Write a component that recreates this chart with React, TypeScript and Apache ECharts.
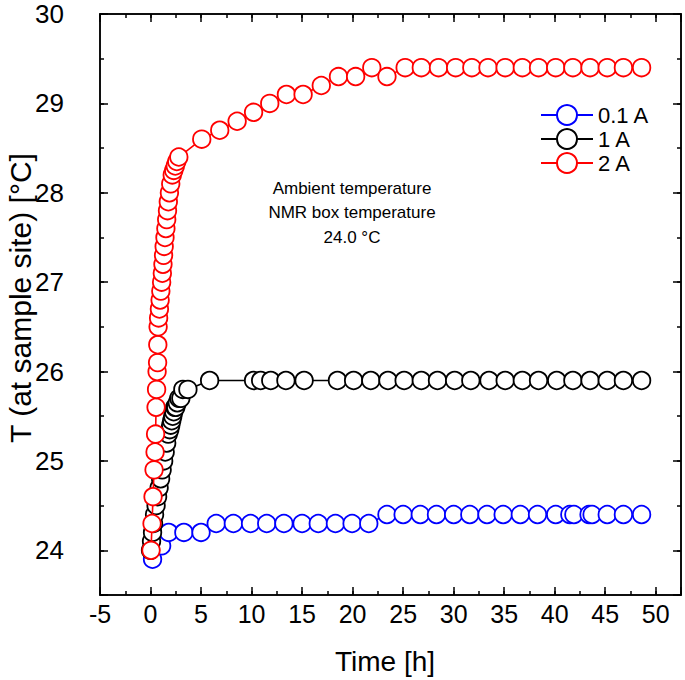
import React, { useEffect, useRef } from "react";
import * as echarts from "echarts";

const FONT = '"Liberation Sans", Arial, Helvetica, sans-serif';

// 0.1 A
const blueTime = [0.2, 1.1, 1.8, 3.3, 5.0, 6.5, 8.2, 9.9, 11.5, 13.2, 15.0, 16.6, 18.3, 19.95, 21.6, 23.4, 25.0, 26.7, 28.3, 30.0, 31.6, 33.3, 34.9, 36.6, 38.3, 40.1, 41.5, 41.9, 43.4, 43.7, 45.2, 46.8, 48.6];
const blueTemp = [23.9, 24.05, 24.2, 24.2, 24.2, 24.3, 24.3, 24.3, 24.3, 24.3, 24.3, 24.3, 24.3, 24.3, 24.3, 24.4, 24.4, 24.4, 24.4, 24.4, 24.4, 24.4, 24.4, 24.4, 24.4, 24.4, 24.4, 24.4, 24.4, 24.4, 24.4, 24.4, 24.4];

// 1 A
const blackTime = [0.0, 0.1, 0.2, 0.3, 0.4, 0.55, 0.7, 0.85, 1.0, 1.15, 1.3, 1.45, 1.6, 1.75, 1.9, 2.0, 2.1, 2.2, 2.3, 2.4, 2.5, 2.65, 2.8, 3.0, 3.2, 3.7, 5.85, 10.2, 10.9, 11.9, 13.4, 15.2, 18.5, 20.1, 21.8, 23.5, 25.1, 26.8, 28.4, 30.1, 31.7, 33.5, 35.1, 36.8, 38.4, 40.2, 41.8, 43.5, 45.2, 46.8, 48.6];
const blackTemp = [24.0, 24.1, 24.2, 24.3, 24.4, 24.5, 24.6, 24.7, 24.8, 24.9, 25.0, 25.1, 25.2, 25.3, 25.35, 25.4, 25.45, 25.5, 25.55, 25.6, 25.6, 25.65, 25.7, 25.7, 25.8, 25.8, 25.9, 25.9, 25.9, 25.9, 25.9, 25.9, 25.9, 25.9, 25.9, 25.9, 25.9, 25.9, 25.9, 25.9, 25.9, 25.9, 25.9, 25.9, 25.9, 25.9, 25.9, 25.9, 25.9, 25.9, 25.9];

// 2 A
const redTime = [0.05, 0.15, 0.25, 0.35, 0.45, 0.5, 0.55, 0.6, 0.65, 0.7, 0.72, 0.75, 0.8, 0.88, 0.95, 1.02, 1.1, 1.17, 1.23, 1.29, 1.35, 1.43, 1.52, 1.6, 1.68, 1.76, 1.87, 2.0, 2.15, 2.3, 2.45, 2.6, 2.8, 5.07, 6.85, 8.57, 10.2, 11.8, 13.45, 15.1, 16.9, 18.6, 20.3, 21.9, 23.4, 25.2, 26.8, 28.5, 30.2, 31.8, 33.4, 35.1, 36.8, 38.4, 40.1, 41.8, 43.5, 45.2, 46.8, 48.6];
const redTemp = [24.0, 24.3, 24.6, 24.9, 25.1, 25.3, 25.6, 25.8, 26.0, 26.1, 26.3, 26.5, 26.6, 26.7, 26.8, 26.9, 27.0, 27.1, 27.2, 27.3, 27.4, 27.5, 27.6, 27.7, 27.8, 27.9, 28.0, 28.1, 28.2, 28.25, 28.3, 28.35, 28.4, 28.6, 28.7, 28.8, 28.9, 29.0, 29.1, 29.1, 29.2, 29.3, 29.3, 29.4, 29.3, 29.4, 29.4, 29.4, 29.4, 29.4, 29.4, 29.4, 29.4, 29.4, 29.4, 29.4, 29.4, 29.4, 29.4, 29.4];

const seriesNames = ["0.1 A", "1 A", "2 A"];
const seriesColors = ["#0000ff", "#000000", "#ff0000"];
const noteLines = ["Ambient temperature", "NMR box temperature", "24.0 °C"];
const xTitle = "Time [h]";
const yTitle = "T (at sample site) [°C]";

const X_MIN = -5, X_MAX = 52.5, Y_MIN = 23.5, Y_MAX = 30;

function zip(a: number[], b: number[]) {
  return a.map((t, i) => [t, b[i]]);
}

export default function App() {
  const ref = useRef<HTMLDivElement>(null);
  useEffect(() => {
    if (!ref.current) return;
    const chart = echarts.init(ref.current, null, { renderer: "svg" });
    const axisLine = { show: true, onZero: false, lineStyle: { color: "#000", width: 1.5 } };
    const mkX = (pos: "bottom" | "top", minor: boolean, labels: boolean) => ({
      type: "value",
      position: pos,
      min: X_MIN,
      max: X_MAX,
      interval: minor ? 2.5 : 5,
      axisLine,
      axisTick: { show: true, inside: true, length: minor ? 4 : 8, lineStyle: { color: "#000", width: 1.5 } },
      axisLabel: labels
        ? {
            show: true,
            margin: 6,
            color: "#000",
            fontFamily: FONT,
            fontSize: 25,
            formatter: (v: number) => (v > 50 ? "" : String(v)),
          }
        : { show: false },
      splitLine: { show: false },
    });
    const mkY = (pos: "left" | "right", minor: boolean, labels: boolean) => ({
      type: "value",
      position: pos,
      min: Y_MIN,
      max: Y_MAX,
      ...(minor ? { interval: 0.5 } : { splitNumber: 6 }),
      axisLine,
      axisTick: { show: true, inside: true, length: minor ? 4 : 8, lineStyle: { color: "#000", width: 1.5 } },
      axisLabel: labels
        ? {
            show: true,
            margin: 36,
            color: "#000",
            fontFamily: FONT,
            fontSize: 26,
            formatter: (v: number) => (Number.isInteger(v) ? String(v) : ""),
          }
        : { show: false },
      splitLine: { show: false },
    });
    const datasets = [zip(blueTime, blueTemp), zip(blackTime, blackTemp), zip(redTime, redTemp)];
    const option = {
      animation: false,
      backgroundColor: "#fff",
      grid: { left: 100, right: 4, top: 14, bottom: 85, containLabel: false },
      xAxis: [mkX("bottom", false, true), mkX("bottom", true, false), mkX("top", false, false), mkX("top", true, false)],
      yAxis: [mkY("left", false, true), mkY("left", true, false), mkY("right", false, false), mkY("right", true, false)],
      legend: {
        orient: "vertical",
        left: 535,
        top: 99,
        itemWidth: 52,
        itemHeight: 25,
        itemGap: 2,
        textStyle: { color: "#000", fontFamily: FONT, fontSize: 22 },
        data: seriesNames,
      },
      graphic: [
        ...noteLines.map((t, i) => ({
          type: "text",
          x: 352,
          y: 188 + i * 24.5,
          style: { text: t, fill: "#000", font: `17px ${FONT}`, textAlign: "center", textVerticalAlign: "middle" },
        })),
        {
          type: "text",
          x: 385,
          y: 661,
          style: { text: xTitle, fill: "#000", font: `28px ${FONT}`, textAlign: "center", textVerticalAlign: "middle" },
        },
        {
          type: "text",
          x: 20,
          y: 298,
          rotation: Math.PI / 2,
          style: { text: yTitle, fill: "#000", font: `30px ${FONT}`, textAlign: "center", textVerticalAlign: "middle" },
        },
      ],
      series: datasets.map((d, i) => ({
        name: seriesNames[i],
        type: "line",
        data: d,
        xAxisIndex: 0,
        yAxisIndex: 0,
        symbol: "circle",
        symbolSize: 17.5,
        showAllSymbol: true,
        lineStyle: { color: seriesColors[i], width: 1.6 },
        itemStyle: { color: "#fff", borderColor: seriesColors[i], borderWidth: 1.8 },
        emphasis: { disabled: true },
        z: 2 + i,
      })),
    };
    chart.setOption(option as any);
    return () => chart.dispose();
  }, []);
  return <div ref={ref} style={{ position: "absolute", left: 0, top: 0, width: 685, height: 680 }} />;
}
